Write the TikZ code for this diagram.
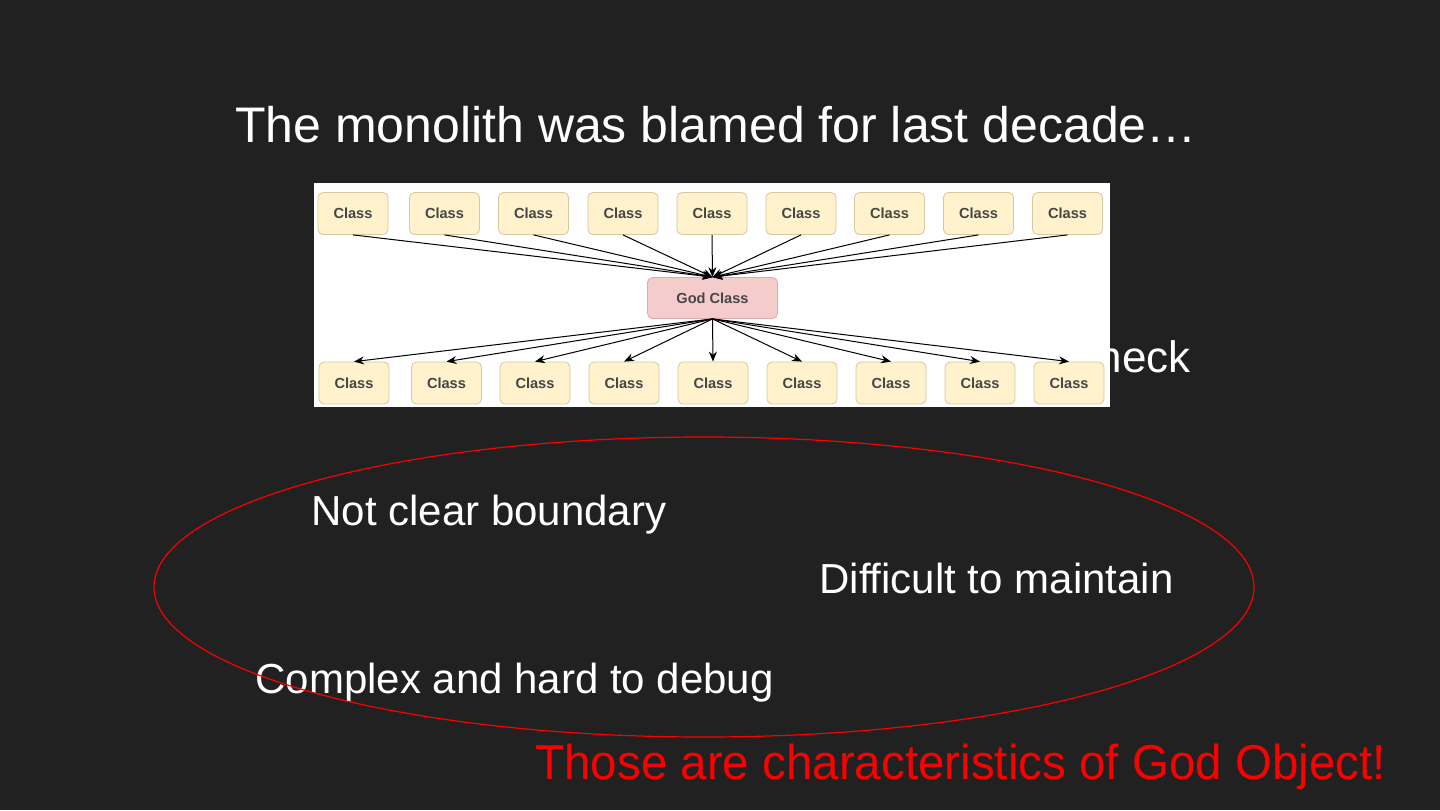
\documentclass[tikz,border=0pt]{standalone}
\usepackage{fontspec}
\usepackage{graphicx}
\setmainfont{Liberation Sans}
\usetikzlibrary{arrows.meta}
\definecolor{slidebg}{RGB}{33,33,33}
\definecolor{classfill}{RGB}{255,242,204}
\definecolor{classline}{RGB}{214,200,160}
\definecolor{godfill}{RGB}{245,204,204}
\definecolor{godline}{RGB}{220,170,170}
\definecolor{classtext}{RGB}{70,70,70}
\definecolor{alertred}{RGB}{250,0,0}
\tikzset{
classbox/.style={draw=classline,fill=classfill,rounded corners=2.5pt,line width=0.4pt,
 minimum width=35pt,minimum height=21pt,inner sep=0pt,
 font=\fontsize{7.3pt}{8pt}\selectfont\bfseries,text=classtext},
godbox/.style={classbox,draw=godline,fill=godfill,minimum width=65pt,minimum height=20.5pt},
link/.style={-{Stealth[length=5pt,width=4pt]},line width=0.5pt,black},
bodytext/.style={text=white,inner sep=0pt,font=\fontsize{21pt}{25pt}\selectfont}
}
\begin{document}
\begin{tikzpicture}[x=0.5pt,y=-0.5pt]

\fill[slidebg] (0,0) rectangle (1440,810);
\useasboundingbox (0,0) rectangle (1440,810);

% Title
\node[bodytext,anchor=base,font=\fontsize{25pt}{30pt}\selectfont] (title) at (716,142)
{The monolith was blamed for last decade\dots};

% hidden behind the picture
\node[bodytext,anchor=base east,font=\fontsize{22pt}{26pt}\selectfont] (neck) at (1191,372)
{neck};

% Picture
\fill[white] (314,183) rectangle (1110,407);

\node[godbox] (god) at (712.5,298) {God Class};

\foreach \x [count=\i] in {353,444.5,533.5,623,712,801,889.5,978.5,1067.5}
{
\node[classbox] (top\i) at (\x,213.5) {Class};
\draw[link] (top\i.south) -- (god.north);
}

\foreach \x [count=\i] in {354,446.5,535,624,713,802,891,980,1069}
{
\node[classbox] (bot\i) at (\x,383) {Class};
\draw[link] (god.south) -- (bot\i.north);
}

% Characteristics
\node[bodytext,anchor=base west] (bound) at (311,525) {Not clear boundary};
\node[bodytext,anchor=base west] (maint) at (819,593) {Difficult to maintain};
\node[bodytext,anchor=base west] (debug) at (255,693) {Complex and hard to debug};

\draw[alertred,line width=0.6pt] (704,587) ellipse [x radius=550,y radius=150];

\node[bodytext,anchor=base west,text=alertred,font=\fontsize{24.5pt}{28pt}\selectfont] (god object) at (535,779)
{\scalebox{0.97}[1]{Those are characteristics of God Object!}};

\end{tikzpicture}
\end{document}
